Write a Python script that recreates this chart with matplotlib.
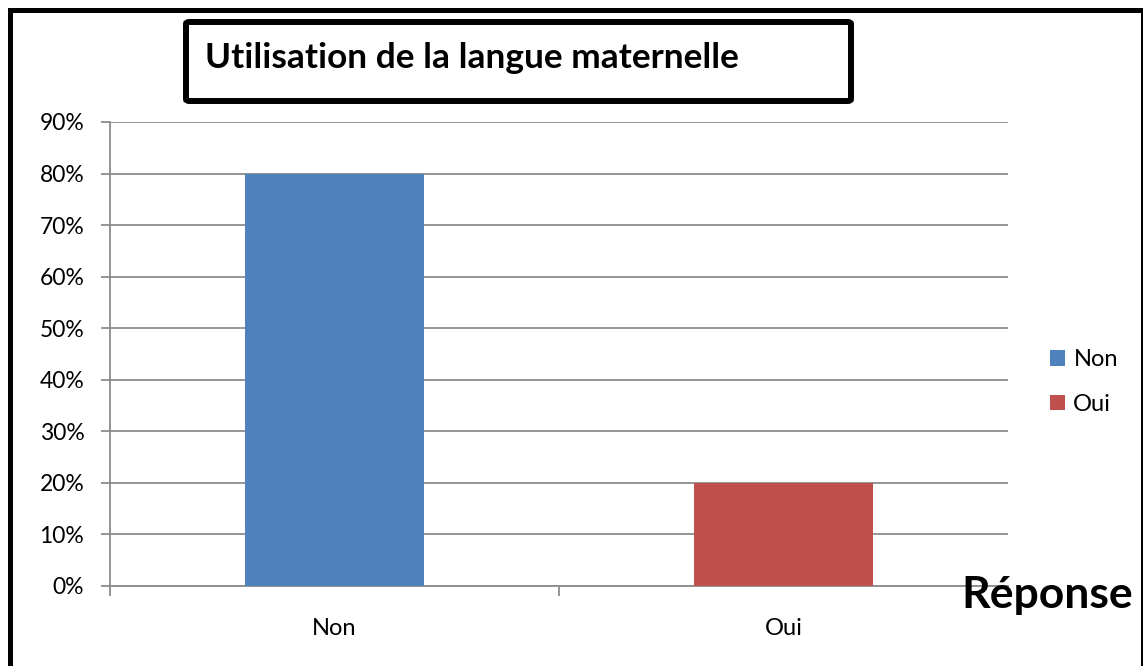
import matplotlib
matplotlib.use("Agg")
import matplotlib.pyplot as plt
from matplotlib.patches import Rectangle, FancyBboxPatch
from matplotlib.ticker import FuncFormatter

plt.rcParams['font.family'] = ['Lato', 'DejaVu Sans']

categories = ["Non", "Oui"]
values = [0.80, 0.20]
colors = ["#4F81BD", "#C0504D"]
yticks = [0, 0.1, 0.2, 0.3, 0.4, 0.5, 0.6, 0.7, 0.8, 0.9]
title = "Utilisation de la langue maternelle"
xlabel = "Réponse"

W, H = 1143, 666
fig = plt.figure(figsize=(W / 100, H / 100), dpi=100)


def fx(px):
    return px / W


def fy(py):
    return 1 - py / H


# outer frame
fig.patches.append(Rectangle((fx(10), fy(700)), fx(1143.5) - fx(10), fy(10.5) - fy(700),
                             transform=fig.transFigure, fill=False, lw=3.6, ec="black"))

# title box
fig.patches.append(FancyBboxPatch((fx(186), fy(101)), fx(851) - fx(186), fy(22) - fy(101),
                                  boxstyle="round,pad=0,rounding_size=0.003",
                                  transform=fig.transFigure, fill=False, lw=4.3, ec="black"))
fig.text(fx(205), fy(58), title, fontsize=25.4, fontweight="bold", ha="left", va="center")

ax = fig.add_axes([fx(110), fy(586), fx(1008) - fx(110), fy(122) - fy(586)])
x = list(range(len(categories)))
bars = ax.bar(x, values, width=0.4, color=colors, zorder=3)
ax.set_xlim(-0.5, 1.5)
ax.set_ylim(0, 0.9)
ax.set_yticks(yticks)
ax.yaxis.set_major_formatter(FuncFormatter(lambda v, p: f"{v * 100:.0f}%"))
ax.grid(axis="y", color="#8c8c8c", lw=1.3, zorder=0)
for s in ["top", "right"]:
    ax.spines[s].set_visible(False)
for s in ["left", "bottom"]:
    ax.spines[s].set_color("#8c8c8c")
    ax.spines[s].set_linewidth(1.3)
ax.tick_params(axis="y", length=6.5, width=1.3, color="#8c8c8c", pad=12, labelsize=16.5)
ax.set_xticks(x)
ax.set_xticklabels(categories)
ax.set_xticks([-0.5, 0.5, 1.5], minor=True)
ax.tick_params(axis="x", which="major", length=0, pad=23, labelsize=17)
ax.tick_params(axis="x", which="minor", length=7, width=1.3, color="#8c8c8c")

leg = fig.legend(bars, categories, loc="center left", bbox_to_anchor=(fx(1050), fy(382)),
                 bbox_transform=fig.transFigure, frameon=False, fontsize=17,
                 handlelength=0.64, handleheight=0.64, handletextpad=0.35,
                 labelspacing=1.0, borderpad=0, borderaxespad=0)

fig.text(fx(1133), fy(608), xlabel, fontsize=32, fontweight="bold", ha="right", va="baseline")

fig.savefig("out.png", dpi=100)
